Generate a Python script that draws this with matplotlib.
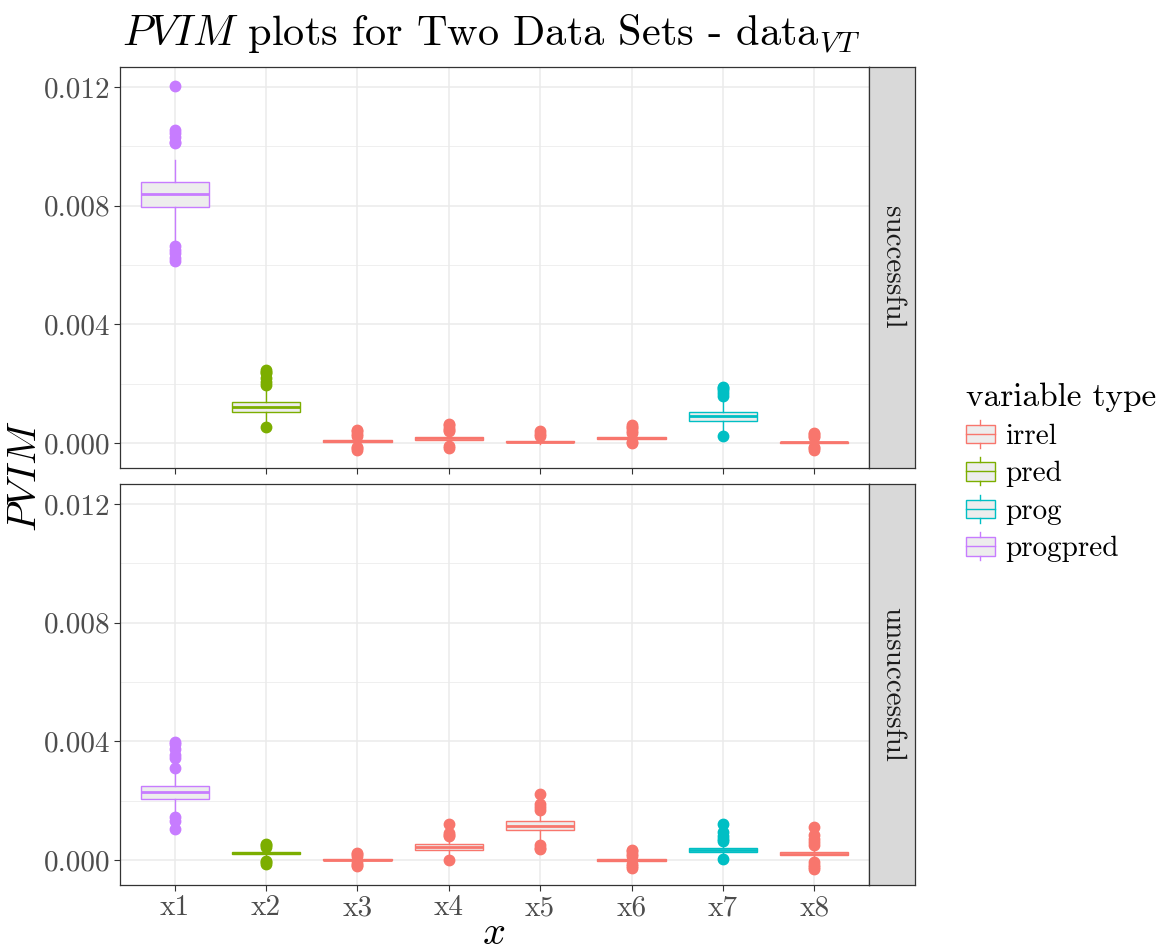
import matplotlib
matplotlib.use("Agg")
import matplotlib.pyplot as plt
from matplotlib.patches import Rectangle, Patch
from matplotlib.lines import Line2D
from matplotlib.legend_handler import HandlerBase

plt.rcParams['font.family'] = 'cmr10'
plt.rcParams['mathtext.fontset'] = 'cm'
plt.rcParams['axes.formatter.use_mathtext'] = True

categories = ['x1', 'x2', 'x3', 'x4', 'x5', 'x6', 'x7', 'x8']
var_type = ['progpred', 'pred', 'irrel', 'irrel', 'irrel', 'irrel', 'prog', 'irrel']
type_names = ['irrel', 'pred', 'prog', 'progpred']
type_colors = {'irrel': '#F8766D', 'pred': '#7CAE00', 'prog': '#00BFC4', 'progpred': '#C77CFF'}

# successful data sets
succ_q1 = [0.00797, 0.00105, 0.00002, 0.00012, 0.00002, 0.00013, 0.00074, -0.00001]
succ_med = [0.00839, 0.00122, 0.00006, 0.00017, 0.00005, 0.00017, 0.00092, 0.00002]
succ_q3 = [0.00878, 0.00139, 0.00010, 0.00022, 0.00008, 0.00021, 0.00105, 0.00004]
succ_lo = [0.00685, 0.00072, -0.00008, 0.00005, -0.00003, 0.00010, 0.00040, -0.00008]
succ_hi = [0.00954, 0.00180, 0.00020, 0.00032, 0.00015, 0.00028, 0.00145, 0.00010]
succ_fliers = [
    [0.01202, 0.01055, 0.01045, 0.01030, 0.01015, 0.01010, 0.00665, 0.00650, 0.00640, 0.00625, 0.00615],
    [0.00245, 0.00240, 0.00235, 0.00220, 0.00205, 0.00195, 0.00055],
    [0.00045, 0.00040, 0.00032, 0.00025, -0.00012, -0.00018, -0.00022],
    [0.00065, 0.00060, 0.00052, 0.00045, 0.00040, -0.00010, -0.00015],
    [0.00042, 0.00032, 0.00025],
    [0.00060, 0.00055, 0.00050, 0.00040, 0.00035, 0.00000, 0.00005],
    [0.00190, 0.00185, 0.00180, 0.00170, 0.00160, 0.00023],
    [0.00035, 0.00030, 0.00025, 0.00020, -0.00012, -0.00018, -0.00022],
]

# unsuccessful data sets
unsucc_q1 = [0.00207, 0.00020, -0.00001, 0.00034, 0.00101, -0.00002, 0.00027, 0.00017]
unsucc_med = [0.00229, 0.00024, 0.00001, 0.00043, 0.00116, 0.00000, 0.00034, 0.00022]
unsucc_q3 = [0.00249, 0.00027, 0.00003, 0.00053, 0.00131, 0.00002, 0.00041, 0.00027]
unsucc_lo = [0.00165, 0.00010, -0.00006, 0.00020, 0.00065, -0.00007, 0.00018, 0.00010]
unsucc_hi = [0.00290, 0.00037, 0.00008, 0.00070, 0.00158, 0.00007, 0.00060, 0.00040]
unsucc_fliers = [
    [0.00398, 0.00390, 0.00375, 0.00355, 0.00345, 0.00310, 0.00145, 0.00130, 0.00105],
    [0.00055, 0.00050, 0.00045, -0.00002, -0.00008, -0.00014],
    [0.00025, 0.00020, 0.00015, -0.00010, -0.00015, -0.00020],
    [0.00122, 0.00092, 0.00085, 0.00080, 0.00000],
    [0.00222, 0.00190, 0.00180, 0.00170, 0.00050, 0.00042, 0.00036],
    [0.00035, 0.00030, 0.00022, 0.00015, -0.00012, -0.00020, -0.00026],
    [0.00120, 0.00095, 0.00080, 0.00072, 0.00065, 0.00002],
    [0.00112, 0.00085, 0.00070, 0.00060, 0.00052, -0.00005, -0.00015, -0.00025, -0.00030],
]

yticks = [0.000, 0.004, 0.008, 0.012]
minor_ticks = [0.002, 0.006, 0.010]
facets = ['successful', 'unsuccessful']

BOX_FILL = '#EDEDED'
GRID = '#EBEBEB'
FRAME = '#333333'
TICK_TXT = '#4D4D4D'


def draw_panel(ax, q1, med, q3, lo, hi, fliers):
    positions = list(range(1, len(categories) + 1))
    for pos, t, a, m, b, l, h, f in zip(positions, var_type, q1, med, q3, lo, hi, fliers):
        col = type_colors[t]
        stats = [dict(q1=a, med=m, q3=b, whislo=l, whishi=h, fliers=f)]
        ax.bxp(stats, positions=[pos], widths=0.75, patch_artist=True, showcaps=False,
               boxprops=dict(facecolor=BOX_FILL, edgecolor=col, linewidth=1.0),
               medianprops=dict(color=col, linewidth=2.0, solid_capstyle='butt'),
               whiskerprops=dict(color=col, linewidth=1.0),
               flierprops=dict(marker='o', markersize=7.5, markerfacecolor=col,
                               markeredgecolor=col, linestyle='none'),
               zorder=3)
    ax.set_xlim(0.4, len(categories) + 0.6)
    ax.set_ylim(-0.00084, 0.01267)
    ax.set_yticks(yticks)
    ax.set_yticklabels(['%.3f' % v for v in yticks])
    ax.set_yticks(minor_ticks, minor=True)
    ax.set_xticks(positions)
    ax.grid(True, which='major', color=GRID, linewidth=1.1, zorder=0)
    ax.grid(True, which='minor', axis='y', color=GRID, linewidth=0.55, zorder=0)
    ax.set_axisbelow(True)
    ax.tick_params(axis='both', which='major', labelsize=21, colors=FRAME,
                   labelcolor=TICK_TXT, length=4, width=0.8, pad=3)
    ax.tick_params(axis='y', which='minor', length=0)
    for s in ax.spines.values():
        s.set_color(FRAME)
        s.set_linewidth(0.9)


class BoxKeyHandler(HandlerBase):
    def create_artists(self, legend, orig_handle, xdescent, ydescent, width, height, fontsize, trans):
        col = orig_handle.get_edgecolor()
        x0, y0 = -xdescent, -ydescent
        box_h = height * 0.66
        by = y0 + (height - box_h) / 2
        cx = x0 + width / 2
        rect = Rectangle((x0, by), width, box_h, facecolor=BOX_FILL, edgecolor=col,
                         linewidth=1.0, transform=trans)
        mid = Line2D([x0, x0 + width], [by + box_h / 2] * 2, color=col, linewidth=1.0, transform=trans)
        w1 = Line2D([cx, cx], [y0, by], color=col, linewidth=1.0, transform=trans)
        w2 = Line2D([cx, cx], [by + box_h, y0 + height], color=col, linewidth=1.0, transform=trans)
        return [rect, mid, w1, w2]


W, H = 1159, 952
fig = plt.figure(figsize=(W / 100, H / 100), dpi=100)

left, right = 120, 869
panel_px = [(67, 468), (484, 885)]
data = [
    (succ_q1, succ_med, succ_q3, succ_lo, succ_hi, succ_fliers),
    (unsucc_q1, unsucc_med, unsucc_q3, unsucc_lo, unsucc_hi, unsucc_fliers),
]

axes = []
for (top, bot), vals, name in zip(panel_px, data, facets):
    ax = fig.add_axes([left / W, 1 - bot / H, (right - left) / W, (bot - top) / H])
    draw_panel(ax, *vals)
    axes.append(ax)
    # facet strip on the right
    sax = fig.add_axes([right / W, 1 - bot / H, 46 / W, (bot - top) / H])
    sax.set_facecolor('#D9D9D9')
    sax.set_xticks([])
    sax.set_yticks([])
    for s in sax.spines.values():
        s.set_color(FRAME)
        s.set_linewidth(0.9)
    sax.text(0.5, 0.5, name, rotation=-90, ha='center', va='center',
             fontsize=21, color='#1A1A1A', transform=sax.transAxes)

axes[0].tick_params(axis='x', labelbottom=False)
axes[1].set_xticklabels(categories)

fig.text(122 / W, 1 - 45 / H, r'$PVIM$ plots for Two Data Sets - data$_{VT}$',
         fontsize=30.5, ha='left', va='baseline')
fig.text(26 / W, 1 - 476 / H, r'$PVIM$', rotation=90, fontsize=29, ha='center', va='center')
fig.text(494 / W, 1 - 944 / H, r'$x$', fontsize=29, ha='center', va='baseline')

handles = [Patch(edgecolor=type_colors[t], facecolor=BOX_FILL) for t in type_names]
fig.legend(handles, type_names, title='variable type', loc='upper left',
           bbox_to_anchor=(954 / W, 1 - 371 / H), frameon=False, fontsize=21,
           title_fontsize=24, handlelength=1.0, handleheight=1.1, handletextpad=0.35,
           labelspacing=0.26, borderaxespad=0, alignment='left',
           handler_map={Patch: BoxKeyHandler()})

fig.savefig('out.png', dpi=100)
